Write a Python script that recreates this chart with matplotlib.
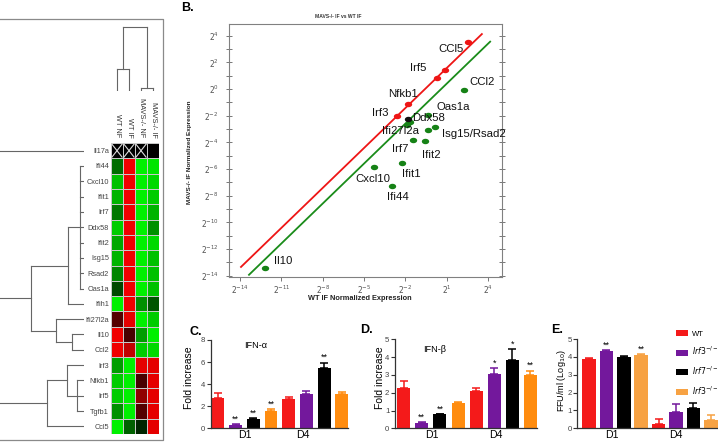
import numpy as np
import matplotlib
matplotlib.use("Agg")
import matplotlib.pyplot as plt
from matplotlib.colors import LinearSegmentedColormap
from matplotlib.patches import Patch

plt.rcParams['font.family'] = ['Liberation Sans', 'DejaVu Sans']

# ---------------- data: panel A (heatmap) ----------------
genes = ["Il17a", "Ifi44", "Cxcl10", "Ifit1", "Irf7", "Ddx58", "Ifit2", "Isg15",
         "Rsad2", "Oas1a", "Ifih1", "Ifi27l2a", "Il10", "Ccl2", "Irf3", "Nfkb1",
         "Irf5", "Tgfb1", "Ccl5"]
conditions = ["WT NF", "WT IF", "MAVS-/- NF", "MAVS-/- IF"]
wt_nf = [np.nan, -0.45, -0.8, -0.75, -0.5, -0.85, -0.7, -0.75, -0.55, -0.3,
         -1.0, 0.35, 1.0, 1.0, -0.65, -0.85, -0.85, -0.6, -1.0]
wt_if = [np.nan, 1.0, 1.0, 1.0, 1.0, 1.0, 1.0, 1.0, 1.0, 1.0,
         1.0, 0.95, 0.3, 0.8, -1.0, -1.0, -1.0, -1.0, -0.4]
mavs_nf = [np.nan, -1.0, -1.0, -1.0, -1.0, -1.0, -1.0, -1.0, -1.0, -1.0,
           -0.6, -1.0, -0.65, -0.85, 0.95, 0.3, 0.6, 0.35, -0.15]
mavs_if = [0.0, -0.95, -0.9, -0.85, -0.75, -0.6, -0.9, -0.8, -0.8, -0.8,
           -0.35, -0.85, -1.0, -0.9, 0.95, 0.95, 0.95, 0.95, 0.95]
# dendrograms: (height, [children]) ; ints are leaf indices
row_tree = (100, [0,
                  (53, [(16, [(4, [1, 2, 3, 4, 5, 6, 7, 8, 9]), 10]),
                        (28, [11, (11.7, [12, 13])])]),
                  (36.7, [(17.3, [14, (6.7, [15, 16, 17])]), 18])])
col_tree = (64.3, [(21.7, [0, 1]), (2.7, [2, 3])])

# ---------------- data: panel B (scatter, log2 values) ----------------
up_genes = ["Irf3", "Nfkb1", "Irf5", "Tgfb1", "Ccl5"]
up_x = [-2.6, -1.8, 0.25, 0.86, 2.55]
up_y = [-2.02, -1.12, 0.86, 1.45, 3.5]
down_genes = ["Il10", "Cxcl10", "Ifi44", "Ifit1", "Irf7", "Ifit2", "Isg15", "Rsad2",
              "Oas1a", "Ifi27l2a", "Ifih1", "Ccl2"]
down_x = [-12.19, -4.27, -2.96, -2.28, -1.44, -0.59, -0.35, 0.13, -0.4, -1.68, -1.92, 2.26]
down_y = [-13.4, -5.88, -7.24, -5.55, -3.82, -3.86, -3.05, -2.88, -1.93, -2.5, -2.68, -0.1]
nc_genes = ["Ddx58"]
nc_x = [-1.8]
nc_y = [-2.27]
fold_change = 1.5
up_line_x = [-13.93, 3.54]
down_line_x = [-13.35, 4.14]
point_labels = ["CCl5", "Irf5", "CCl2", "Nfkb1", "Oas1a", "Irf3", "Ddx58", "Ifi27l2a",
                "Isg15/Rsad2", "Irf7", "Ifit2", "Ifit1", "Cxcl10", "Ifi44", "Il10"]
label_x = [0.39, -1.66, 2.64, -3.24, 0.27, -4.44, -1.5, -3.72, 0.64, -2.95, -0.77,
           -2.27, -5.6, -3.35, -11.51]
label_y = [2.98, 1.6, 0.55, -0.39, -1.37, -1.77, -2.19, -3.12, -3.39, -4.5, -4.95,
           -6.39, -6.75, -8.12, -12.9]

# ---------------- data: panels C, D, E ----------------
groups = ["WT", "Irf3-/-", "Irf7-/-", "Irf3-/-Irf7-/-"]
days = ["D1", "D4"]
ifna = [2.77, 0.27, 0.84, 1.6, 2.65, 3.08, 5.43, 3.08]
ifna_err = [0.40, 0.09, 0.06, 0.15, 0.18, 0.33, 0.52, 0.18]
ifna_sig = ["", "**", "**", "**", "", "", "**", ""]
ifnb = [2.25, 0.31, 0.79, 1.42, 2.11, 3.05, 3.84, 3.01]
ifnb_err = [0.42, 0.06, 0.03, 0.04, 0.13, 0.32, 0.60, 0.23]
ifnb_sig = ["", "**", "**", "", "", "*", "*", "**"]
ffu = [3.86, 4.35, 3.97, 4.1, 0.24, 0.93, 1.12, 0.46]
ffu_err = [0.06, 0.05, 0.08, 0.04, 0.30, 0.41, 0.31, 0.28]
ffu_sig = ["", "**", "", "**", "", "", "", ""]

W, H = 718, 442
fig = plt.figure(figsize=(W / 100, H / 100), dpi=100)


def box(x0, y0, x1, y1):
    return [x0 / W, 1 - y1 / H, (x1 - x0) / W, (y1 - y0) / H]


ov = fig.add_axes([0, 0, 1, 1])
ov.set_xlim(0, W)
ov.set_ylim(H, 0)
ov.axis('off')

# ---- panel A frame
fc = '#8a8a8a'
ov.plot([0, 163, 163, 0], [19, 19, 440, 440], color=fc, lw=0.9)

# ---- heatmap
cmap = LinearSegmentedColormap.from_list('gkr', ['#00F000', '#000000', '#F00000'])
cmap.set_bad('black')
mat = np.ma.masked_invalid(np.array([wt_nf, wt_if, mavs_nf, mavs_if]).T)
axh = fig.add_axes(box(111, 143, 159, 434))
axh.pcolormesh(mat, cmap=cmap, vmin=-1, vmax=1, edgecolors='#c8c8c8', linewidth=0.6)
axh.set_xlim(0, 4)
axh.set_ylim(len(genes), 0)
for i in range(len(genes)):
    for j in range(4):
        if np.ma.is_masked(mat[i, j]):
            axh.plot([j + 0.08, j + 0.92], [i + 0.08, i + 0.92], color='#dddddd', lw=0.8)
            axh.plot([j + 0.08, j + 0.92], [i + 0.92, i + 0.08], color='#dddddd', lw=0.8)
axh.set_xticks([])
axh.set_yticks(np.arange(len(genes)) + 0.5)
axh.set_yticklabels(genes, fontsize=5.3, color='#444444')
axh.tick_params(axis='y', length=0, pad=1.5)
for s in axh.spines.values():
    s.set_visible(False)
for j, c in enumerate(conditions):
    axh.text(j + 0.5, -0.35, c, rotation=270, rotation_mode='anchor', ha='right',
             va='center', fontsize=5.3, color='#333333')


def draw_tree(ax, node, row=True):
    if isinstance(node, int):
        return node + 0.5, 0.0
    h, kids = node
    pts = [draw_tree(ax, k, row) for k in kids]
    pos = [p for p, _ in pts]
    for p, kh in pts:
        if row:
            ax.plot([kh, h], [p, p], color='#666666', lw=0.8)
        else:
            ax.plot([p, p], [kh, h], color='#666666', lw=0.8)
    if row:
        ax.plot([h, h], [min(pos), max(pos)], color='#666666', lw=0.8)
    else:
        ax.plot([min(pos), max(pos)], [h, h], color='#666666', lw=0.8)
    return float(np.mean(pos)), h


axr = fig.add_axes(box(0, 143, 84, 434))
axr.set_xlim(84, 0)
axr.set_ylim(len(genes), 0)
draw_tree(axr, row_tree, row=True)
axr.axis('off')

axc = fig.add_axes(box(111, 20, 159, 91))
axc.set_xlim(0, 4)
axc.set_ylim(0, 71)
draw_tree(axc, col_tree, row=False)
axc.axis('off')

# ---------------- panel B ----------------
axb = fig.add_axes(box(229, 24, 502, 277))
axb.set_xlim(-14.8, 5.0)
axb.set_ylim(-14.1, 4.88)
off = np.log2(fold_change)
axb.plot(up_line_x, np.array(up_line_x) + off, color='#EE1515', lw=1.3)
axb.plot(down_line_x, np.array(down_line_x) - off, color='#1A8C1A', lw=1.3)
th = np.linspace(0, 2 * np.pi, 40)
ell = np.c_[1.35 * np.cos(th), np.sin(th)]
axb.scatter(up_x, up_y, marker=ell, s=28, color='#EE1515', zorder=3, linewidths=0)
axb.scatter(down_x, down_y, marker=ell, s=28, color='#168216', zorder=3, linewidths=0)
axb.scatter(nc_x, nc_y, marker=ell, s=28, color='#111111', zorder=4, linewidths=0)
for t, x, y in zip(point_labels, label_x, label_y):
    axb.text(x, y, t, fontsize=8.2, ha='left', va='center', color='#111111')
xt = [-14, -11, -8, -5, -2, 1, 4]
axb.set_xticks(xt)
axb.set_xticklabels([r'$2^{%d}$' % v for v in xt], fontsize=5.5, color='#555555')
axb.set_xticks(np.arange(-14, 5), minor=True)
yt = np.arange(-14, 5, 2)
axb.set_yticks(yt)
axb.set_yticklabels([r'$2^{%d}$' % v for v in yt], fontsize=5.5, color='#555555')
axb.set_yticks(np.arange(-14, 5), minor=True)
axb.tick_params(axis='y', which='both', direction='inout', length=5, width=0.7,
                color='#777777', pad=5)
axb.tick_params(axis='x', which='major', direction='out', length=3, width=0.7,
                color='#777777', pad=2)
axb.tick_params(axis='x', which='minor', length=0)
axb.tick_params(right=True, which='both')
for s in axb.spines.values():
    s.set_color('#808080')
    s.set_linewidth(0.8)

ov.text(338, 16, "MAVS-/- IF vs WT IF", fontsize=3.6, fontweight='bold', ha='center',
        va='center', color='#333333')
ov.text(189, 152, "MAVS-/- IF Normalized Expression", fontsize=4.6, fontweight='bold',
        rotation=90, ha='center', va='center', color='#222222')
ov.text(360, 299, "WT IF Normalized Expression", fontsize=5.3, fontweight='bold',
        ha='center', va='center', color='#222222')
ov.text(181, 8, "B.", fontsize=9, fontweight='bold', ha='left', va='center')

# ---------------- panels C, D, E ----------------
cols_main = ['#F41A1A', '#73189C', '#000000', '#FF8C0F']
cols_e = ['#F41A1A', '#73189C', '#000000', '#F7A243']


def bar_panel(rect, vals, errs, sig, colors, ymax, xlim, dpos, width, ypad=1):
    ax = fig.add_axes(box(*rect))
    x = np.arange(len(vals))
    cc = [colors[i % 4] for i in range(len(vals))]
    ax.bar(x, vals, width=width, color=cc, zorder=2)
    for xi, v, e, c, s in zip(x, vals, errs, cc, sig):
        ax.errorbar(xi, v, yerr=[[0], [e]], color=c, capsize=3.2, elinewidth=1.1,
                    capthick=1.1, zorder=1)
        if s:
            ax.text(xi, v + e + ymax * 0.005, s, ha='center', va='bottom', fontsize=6.5)
    ax.set_xlim(*xlim)
    ax.set_ylim(0, ymax)
    ax.set_xticks(dpos)
    ax.set_xticklabels(days, fontsize=7.6)
    ax.tick_params(axis='x', length=0, pad=1.5)
    ax.set_yticks(np.arange(0, ymax + 0.01, 2 if ymax > 5 else 1))
    ax.tick_params(axis='y', length=3, width=0.8, labelsize=5.6, labelcolor='#444444',
                   pad=ypad, color='#333333')
    for k in ['top', 'right']:
        ax.spines[k].set_visible(False)
    for k in ['left', 'bottom']:
        ax.spines[k].set_color('#333333')
        ax.spines[k].set_linewidth(0.9)
    ax.patch.set_alpha(0)
    return ax


bar_panel((210.7, 340, 348, 428.3), ifna, ifna_err, ifna_sig, cols_main, 8,
          (-0.42, 7.35), [1.5, 4.77], 0.72)
bar_panel((395, 339.3, 537, 428.3), ifnb, ifnb_err, ifnb_sig, cols_main, 5,
          (-0.48, 7.36), [1.55, 5.1], 0.72)
axe = bar_panel((576.7, 339, 718, 428.3), ffu, ffu_err, ffu_sig, cols_e, 5,
                (-0.71, 7.41), [1.3, 5.0], 0.78, ypad=0.5)

ov.text(189, 378, "Fold increase", rotation=90, fontsize=7.5, ha='center', va='center')
ov.text(380, 378, "Fold increase", rotation=90, fontsize=7.5, ha='center', va='center')
ov.text(561, 381, r"FFU/ml (Log$_{10}$)", rotation=90, fontsize=6.5, ha='center',
        va='center')
ov.text(244, 345, "IFN-α", fontsize=6.6, ha='left', va='center')
ov.text(423, 350, "IFN-β", fontsize=6.6, ha='left', va='center')
ov.text(190, 332, "C.", fontsize=9, fontweight='bold', ha='left', va='center')
ov.text(360, 330, "D.", fontsize=9, fontweight='bold', ha='left', va='center')
ov.text(551, 330, "E.", fontsize=9, fontweight='bold', ha='left', va='center')

legend_labels = ["WT", r"$\it{Irf3}^{-/-}$", r"$\it{Irf7}^{-/-}$",
                 r"$\it{Irf3}^{-/-}\it{Irf7}^{-/-}$"]
handles = [Patch(facecolor=c, edgecolor='none') for c in cols_e]
fig.legend(handles, legend_labels, loc='upper left', bbox_to_anchor=(676 / W, 1 - 330 / H),
           frameon=False, fontsize=5.5, handlelength=1.6, handleheight=0.8,
           labelspacing=0.95, handletextpad=0.5, borderaxespad=0, borderpad=0)

fig.savefig("out.png", dpi=100)
